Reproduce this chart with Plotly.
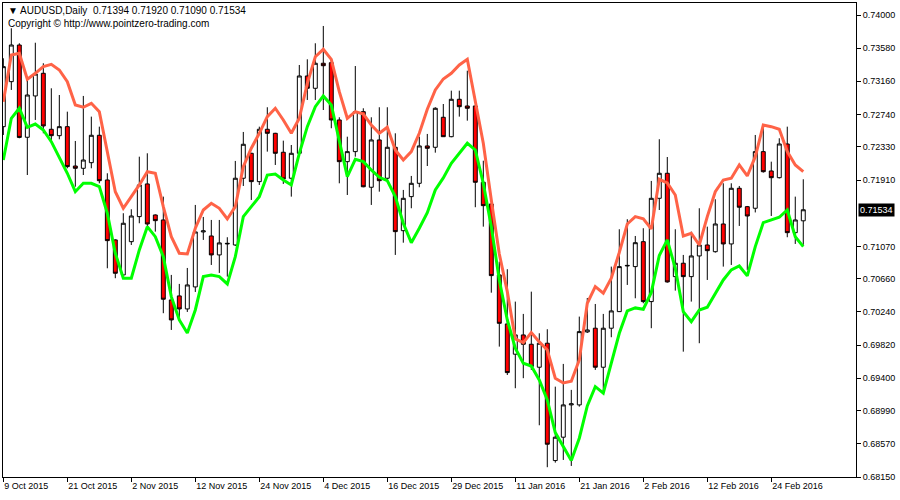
import plotly.graph_objects as go

# ---- data (AUDUSD daily) ----
opens = [0.72586,0.73156,0.73620,0.72452,0.72975,0.73262,0.72553,0.72472,0.72586,0.72088,
         0.72059,0.72130,0.72477,0.71911,0.71152,0.70709,0.71130,0.71447,0.71861,0.71468,
         0.71405,0.70392,0.70443,0.70278,0.70557,0.71253,0.71202,0.70962,0.71101,0.71088,
         0.71933,0.72249,0.71890,0.72553,0.72502,0.72262,0.71933,0.72249,0.73228,0.73072,
         0.73389,0.73396,0.72671,0.72143,0.72270,0.72776,0.71819,0.72418,0.71933,0.72325,
         0.71269,0.71700,0.71869,0.72342,0.72325,0.72705,0.72459,0.72933,0.72848,0.72848,
         0.71882,0.71607,0.70709,0.70088,0.69705,0.69949,0.69831,0.69540,0.69844,0.68358,
         0.68654,0.69063,0.69063,0.69987,0.70034,0.69540,0.70034,0.70244,0.70822,0.70814,
         0.71130,0.70371,0.71679,0.71996,0.70687,0.70857,0.70687,0.70949,0.71088,0.71003,
         0.71354,0.71101,0.71806,0.71573,0.71553,0.72270,0.72025,0.71940,0.72367,0.71244,
         0.71394]
highs = [0.73452,0.73832,0.73642,0.73219,0.73649,0.73389,0.73072,0.72987,0.72776,0.72405,
         0.72975,0.72713,0.72586,0.71996,0.71160,0.71490,0.71540,0.72206,0.72249,0.71475,
         0.71700,0.70709,0.70595,0.70797,0.71595,0.71443,0.71405,0.71405,0.71186,0.72152,
         0.72519,0.72255,0.72586,0.72832,0.72508,0.72409,0.72354,0.73367,0.73439,0.73642,
         0.73861,0.73452,0.72705,0.72459,0.73354,0.72819,0.72705,0.72832,0.72832,0.72502,
         0.71785,0.71962,0.72459,0.72494,0.72832,0.72873,0.73042,0.73042,0.73295,0.72855,
         0.72155,0.71614,0.70877,0.70781,0.70371,0.70215,0.70497,0.69970,0.70021,0.69294,
         0.69582,0.69253,0.70181,0.70417,0.70341,0.70215,0.70814,0.71287,0.71414,0.71202,
         0.71300,0.71899,0.72427,0.72202,0.71287,0.70962,0.71257,0.71553,0.71320,0.71667,
         0.71869,0.71869,0.71835,0.71582,0.72481,0.72608,0.72143,0.72439,0.72586,0.71700,
         0.71920]
lows = [0.72481,0.73051,0.72439,0.71974,0.72671,0.72502,0.72418,0.72426,0.72059,0.71826,
        0.71974,0.72059,0.71869,0.70793,0.70667,0.70687,0.71088,0.71363,0.71329,0.71257,
        0.70224,0.70012,0.70164,0.70240,0.70493,0.71152,0.70835,0.70734,0.70687,0.71076,
        0.71835,0.71658,0.71848,0.72270,0.72101,0.71861,0.71700,0.72228,0.72924,0.72924,
        0.72797,0.72566,0.71869,0.71721,0.72206,0.71819,0.71595,0.71763,0.71911,0.70962,
        0.71117,0.71553,0.71819,0.72088,0.72257,0.72456,0.72452,0.72713,0.72662,0.71566,
        0.71320,0.70484,0.69801,0.69442,0.69274,0.69401,0.69506,0.68805,0.68274,0.68332,
        0.68366,0.68290,0.69041,0.69974,0.69506,0.69211,0.69920,0.70240,0.70582,0.70413,
        0.70350,0.70034,0.71531,0.70611,0.70510,0.69737,0.70371,0.69844,0.70645,0.70991,
        0.70814,0.70835,0.71329,0.70772,0.71500,0.72004,0.71455,0.71930,0.71186,0.71101,
        0.71090]
closes = [0.73346,0.73620,0.72450,0.72987,0.73253,0.72595,0.72472,0.72586,0.72080,0.72059,
          0.72164,0.72477,0.71902,0.71143,0.70730,0.71363,0.71455,0.71848,0.71354,0.71396,
          0.70401,0.70139,0.70278,0.70582,0.71253,0.71266,0.70962,0.71114,0.71108,0.71933,
          0.72363,0.71890,0.72553,0.72502,0.72249,0.71924,0.72249,0.73228,0.73072,0.73389,
          0.73358,0.72671,0.72143,0.72270,0.72776,0.71825,0.72418,0.71902,0.72325,0.71257,
          0.71679,0.71869,0.72342,0.72312,0.72819,0.72459,0.72933,0.72839,0.72819,0.71882,
          0.71586,0.70700,0.70096,0.69472,0.69949,0.69831,0.69548,0.69844,0.68565,0.68654,
          0.69063,0.69076,0.69991,0.70012,0.69540,0.70034,0.70253,0.70814,0.70829,0.71117,
          0.70371,0.71679,0.71996,0.70620,0.70857,0.70687,0.70949,0.71088,0.71016,0.71354,
          0.71101,0.71806,0.71566,0.71455,0.72270,0.72016,0.71940,0.72367,0.71244,0.71405,
          0.71534]
upper_band = [0.72902,0.73494,0.73515,0.73186,0.73262,0.73346,0.73376,0.73304,0.73156,0.72861,
              0.72832,0.72882,0.72776,0.72249,0.71763,0.71553,0.71700,0.71848,0.72016,0.71996,
              0.71573,0.71193,0.70983,0.70974,0.71300,0.71531,0.71616,0.71553,0.71417,0.71573,
              0.72080,0.72313,0.72502,0.72713,0.72819,0.72671,0.72502,0.72692,0.73135,0.73472,
              0.73566,0.73439,0.73029,0.72692,0.72776,0.72747,0.72608,0.72502,0.72578,0.72291,
              0.72164,0.72270,0.72502,0.72806,0.73051,0.73190,0.73262,0.73367,0.73439,0.72882,
              0.72376,0.71658,0.70974,0.70497,0.69899,0.69851,0.69979,0.69861,0.69759,0.69401,
              0.69340,0.69362,0.69632,0.70350,0.70560,0.70477,0.70667,0.70993,0.71354,0.71447,
              0.71420,0.71291,0.71920,0.71873,0.71721,0.71202,0.71236,0.71088,0.71447,0.71763,
              0.71911,0.71933,0.72101,0.71962,0.72206,0.72608,0.72586,0.72553,0.72270,0.72101,
              0.72016]
lower_band = [0.72164,0.72692,0.72819,0.72578,0.72620,0.72544,0.72396,0.72206,0.71996,0.71763,
              0.71869,0.71869,0.71826,0.71490,0.70983,0.70667,0.70667,0.71025,0.71320,0.71193,
              0.70940,0.70434,0.70139,0.69974,0.70265,0.70687,0.70709,0.70687,0.70595,0.70940,
              0.71447,0.71573,0.71700,0.71974,0.71987,0.71911,0.71848,0.72249,0.72586,0.72839,
              0.72975,0.72861,0.72418,0.71953,0.72173,0.72143,0.72038,0.71945,0.71902,0.71700,
              0.71363,0.71117,0.71300,0.71497,0.71785,0.71937,0.72123,0.72249,0.72376,0.72291,
              0.71869,0.71320,0.70645,0.70139,0.69781,0.69591,0.69556,0.69379,0.69126,0.68712,
              0.68535,0.68358,0.68641,0.69050,0.69294,0.69211,0.69591,0.69970,0.70253,0.70291,
              0.70274,0.70487,0.70955,0.71152,0.70793,0.70244,0.70117,0.70265,0.70300,0.70477,
              0.70645,0.70772,0.70822,0.70696,0.71067,0.71371,0.71405,0.71439,0.71531,0.71193,
              0.71067]
date_tick_labels = ["9 Oct 2015", "21 Oct 2015", "2 Nov 2015", "12 Nov 2015", "24 Nov 2015",
                    "4 Dec 2015", "16 Dec 2015", "29 Dec 2015", "11 Jan 2016", "21 Jan 2016",
                    "2 Feb 2016", "12 Feb 2016", "24 Feb 2016"]
price_ticks = [0.74000, 0.73580, 0.73160, 0.72740, 0.72330, 0.71910, 0.71070, 0.70660,
               0.70240, 0.69820, 0.69400, 0.68990, 0.68570, 0.68150]
last_price = 0.71534

bars = list(range(len(closes)))
date_tick_pos = [bars[k] for k in range(0, len(bars), 8)][:len(date_tick_labels)]

FONT = "Liberation Sans, Arial, sans-serif"

fig = go.Figure()
fig.add_trace(go.Candlestick(
    x=bars, open=opens, high=highs, low=lows, close=closes,
    increasing=dict(line=dict(color="black", width=1), fillcolor="white"),
    decreasing=dict(line=dict(color="black", width=1), fillcolor="#ff0000"),
    whiskerwidth=0, hoverinfo="skip", showlegend=False,
))
fig.add_trace(go.Scatter(x=bars, y=upper_band, mode="lines",
                         line=dict(color="#ff6347", width=3), hoverinfo="skip", showlegend=False))
fig.add_trace(go.Scatter(x=bars, y=lower_band, mode="lines",
                         line=dict(color="#00ff00", width=3), hoverinfo="skip", showlegend=False))

fig.update_layout(
    width=900, height=500,
    margin=dict(l=3, r=44, t=3, b=23, autoexpand=False),
    paper_bgcolor="white", plot_bgcolor="white",
    font=dict(family=FONT, size=9, color="black"),
    showlegend=False,
    hovermode=False,
    xaxis=dict(
        range=[-0.04, 106.59], rangeslider=dict(visible=False),
        showgrid=False, zeroline=False, automargin=False,
        showline=True, linecolor="black", linewidth=1, mirror=True,
        tickmode="array", tickvals=date_tick_pos, ticktext=date_tick_labels,
        ticks="outside", ticklen=4, tickcolor="black",
        ticklabelposition="outside right",
        tickfont=dict(family=FONT, size=9, color="black"),
    ),
    yaxis=dict(
        range=[0.68150, 0.74152], side="right",
        showgrid=False, zeroline=False, automargin=False,
        showline=True, linecolor="black", linewidth=1, mirror=True,
        tickmode="array", tickvals=price_ticks,
        ticktext=[f"{v:.5f}" for v in price_ticks],
        ticks="outside", ticklen=4, tickcolor="black",
        tickfont=dict(family=FONT, size=9, color="black"),
    ),
)

fig.add_annotation(xref="paper", yref="paper", x=0.004, y=0.999, xanchor="left", yanchor="top",
                   text=f"\u25bc AUDUSD,Daily  {opens[-1]:.5f} {highs[-1]:.5f} {lows[-1]:.5f} {closes[-1]:.5f}",
                   showarrow=False, font=dict(family=FONT, size=10, color="black"))
fig.add_annotation(xref="paper", yref="paper", x=0.004, y=0.972, xanchor="left", yanchor="top",
                   text="Copyright \u00a9 http://www.pointzero-trading.com",
                   showarrow=False, font=dict(family=FONT, size=10, color="black"))
fig.add_annotation(xref="paper", yref="y", x=1.0, y=last_price, xanchor="left", yanchor="middle",
                   xshift=2, text=f"{last_price:.5f}", showarrow=False, bgcolor="black",
                   borderpad=1, font=dict(family=FONT, size=9, color="white"))

fig.write_html("out.html", config={"displayModeBar": False, "staticPlot": True},
               post_script="document.body.style.margin='0';document.body.style.overflow='hidden';")
